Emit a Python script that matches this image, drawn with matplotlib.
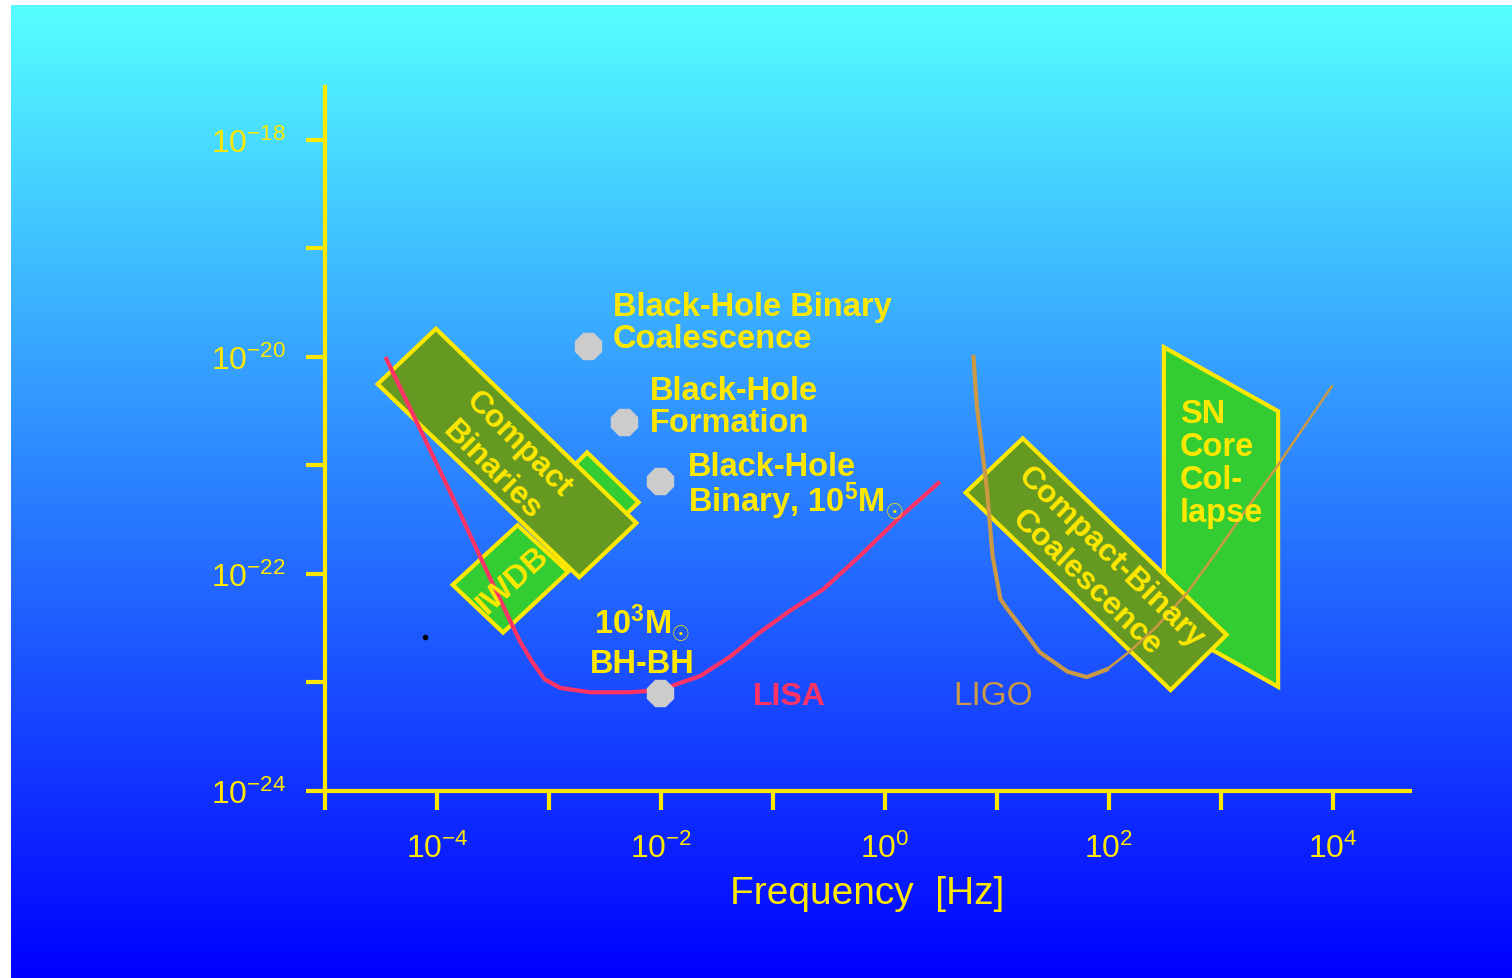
import numpy as np
import matplotlib
matplotlib.use('Agg')
import matplotlib.pyplot as plt
from matplotlib.patches import Polygon
from matplotlib.colors import LinearSegmentedColormap
from matplotlib.ticker import FixedLocator, NullLocator

plt.rcParams['font.family'] = 'Liberation Sans'
plt.rcParams['mathtext.fontset'] = 'custom'
plt.rcParams['mathtext.rm'] = 'Liberation Sans'
plt.rcParams['mathtext.it'] = 'Liberation Sans:italic'
plt.rcParams['mathtext.bf'] = 'Liberation Sans:bold'

# all values as log10(frequency [Hz]) and log10(strain)
lisa_logf = [-4.46, -3.88, -3.44, -3.26, -3.15, -3.04, -2.90, -2.63, -2.28, -2.01,
             -1.65, -1.38, -1.12, -0.85, -0.55, -0.22, 0.13, 0.49]
lisa_logh = [-20.00, -21.25, -22.23, -22.62, -22.81, -22.97, -23.05, -23.09, -23.09, -23.07,
             -22.94, -22.76, -22.54, -22.34, -22.14, -21.83, -21.48, -21.15]

ligo_logf = [0.79, 0.82, 0.91, 0.96, 1.03, 1.09, 1.21, 1.38, 1.63, 1.80, 1.98,
             2.19, 2.43, 2.70, 2.96, 3.23, 3.50, 3.77, 3.99]
ligo_logh = [-20.00, -20.45, -21.22, -21.83, -22.23, -22.32, -22.48, -22.72, -22.90, -22.95, -22.88,
             -22.71, -22.48, -22.17, -21.80, -21.40, -21.01, -20.60, -20.27]

# source regions (corners)
cb_logf = [-4.53, -4.01, -2.22, -2.73]          # compact binaries
cb_logh = [-20.25, -19.74, -21.53, -22.03]
iwdb_logf = [-3.86, -3.28, -2.83, -3.41]        # IWDB
iwdb_logh = [-22.10, -21.55, -21.98, -22.54]
strip_logf = [-2.99, -2.66, -2.20, -2.55]       # green strip behind compact binaries
strip_logh = [-21.22, -20.88, -21.34, -21.68]
cbc_logf = [0.72, 1.23, 3.05, 2.55]             # compact-binary coalescence
cbc_logh = [-21.25, -20.75, -22.56, -23.07]
sn_logf = [2.49, 3.51, 3.51, 2.49]              # SN core collapse
sn_logh = [-19.91, -20.50, -23.04, -22.45]

# black-hole sources
bh_logf = [-2.65, -2.33, -2.01, -2.01]
bh_logh = [-19.90, -20.60, -21.14, -23.10]

xtick_exp = list(range(-5, 5))
ytick_exp = list(range(-24, -17))

# labels: lines, x (log f), baselines (log h)
bhb_lines = ['Black-Hole Binary', 'Coalescence']
bhb_x, bhb_y = -2.43, [-19.61, -19.91]
bhf_lines = ['Black-Hole', 'Formation']
bhf_x, bhf_y = -2.10, [-20.39, -20.68]
bh5_lines = ['Black-Hole', 'Binary, 10$^{\\mathbf{5}}$M$_{\\odot}$']
bh5_x, bh5_y = -1.76, [-21.09, -21.42]
bh3_lines = ['10$^{\\mathbf{3}}$M$_{\\odot}$', 'BH-BH']
bh3_x, bh3_y = -2.17, [-22.54, -22.90]
sn_lines = ['SN', 'Core', 'Col-', 'lapse']
sn_x, sn_y = 2.63, [-20.60, -20.90, -21.21, -21.51]

YELLOW = '#FFE800'
OLIVE = '#669922'
GREEN = '#33CC33'
RED = '#FF3366'
TAN = '#CC9944'


def poly(ax, lf, lh, face, z):
    pts = np.column_stack([10.0 ** np.array(lf), 10.0 ** np.array(lh)])
    ax.add_patch(Polygon(pts, closed=True, facecolor=face, edgecolor=YELLOW,
                         linewidth=3, joinstyle='miter', zorder=z))


def lines(ax, txt, x, ys, ha='left'):
    for t, y in zip(txt, ys):
        ax.text(10 ** x, 10 ** y, t, ha=ha, va='baseline', color=YELLOW,
                fontsize=23.5, fontweight='bold', zorder=7)


fig = plt.figure(figsize=(15.12, 9.79), dpi=100)

bg = fig.add_axes([11 / 1512, 0, 1 - 11 / 1512, 973 / 979])
grad = np.linspace(0, 1, 256).reshape(-1, 1)
cmap = LinearSegmentedColormap.from_list('bg', ['#0000FF', '#55FFFF'])
bg.imshow(grad, aspect='auto', cmap=cmap, origin='lower', extent=[0, 1, 0, 1])
bg.axis('off')

ax = fig.add_axes([325 / 1512, 1 - 792 / 979, (1410 - 325) / 1512, (792 - 88) / 979])
ax.set_facecolor('none')
ax.set_xscale('log')
ax.set_yscale('log')
ax.set_xlim(1e-5, 10 ** 4.6875)
ax.set_ylim(1e-24, 10 ** -17.512)

for s in ['top', 'right']:
    ax.spines[s].set_visible(False)
for s in ['left', 'bottom']:
    ax.spines[s].set_color(YELLOW)
    ax.spines[s].set_linewidth(3)

ax.xaxis.set_major_locator(FixedLocator([10.0 ** e for e in xtick_exp]))
ax.yaxis.set_major_locator(FixedLocator([10.0 ** e for e in ytick_exp]))
ax.xaxis.set_minor_locator(NullLocator())
ax.yaxis.set_minor_locator(NullLocator())
ax.set_xticklabels(['$10^{%d}$' % e if e % 2 == 0 else '' for e in xtick_exp])
ax.set_yticklabels(['$10^{%d}$' % e if e % 2 == 0 else '' for e in ytick_exp])
ax.tick_params(axis='both', colors=YELLOW, width=3, length=14, labelsize=23)
ax.tick_params(axis='x', pad=16)
ax.tick_params(axis='y', pad=14)
ax.set_xlabel('Frequency  [Hz]', color=YELLOW, fontsize=28, labelpad=8)

# regions
poly(ax, sn_logf, sn_logh, GREEN, 2)
poly(ax, cbc_logf, cbc_logh, OLIVE, 3)
poly(ax, strip_logf, strip_logh, GREEN, 2)
poly(ax, iwdb_logf, iwdb_logh, GREEN, 2)
poly(ax, cb_logf, cb_logh, OLIVE, 3)

# detector curves
lf = 10.0 ** np.array(lisa_logf)
lh = 10.0 ** np.array(lisa_logh)
ax.plot(lf, lh, color=RED, lw=3, zorder=5, solid_capstyle='butt')
gf = 10.0 ** np.array(ligo_logf)
gh = 10.0 ** np.array(ligo_logh)
ax.plot(gf[:11], gh[:11], color=TAN, lw=3, zorder=5)
ax.plot(gf[10:], gh[10:], color=TAN, lw=1.8, zorder=5)

ax.plot(10.0 ** np.array(bh_logf), 10.0 ** np.array(bh_logh), linestyle='none',
        marker='8', markersize=20, color='#CCCCCC', zorder=6)
ax.plot([10 ** -4.107], [10 ** -22.58], marker='o', markersize=3, color='black',
        linestyle='none', zorder=6)

lines(ax, bhb_lines, bhb_x, bhb_y)
lines(ax, bhf_lines, bhf_x, bhf_y)
lines(ax, bh5_lines, bh5_x, bh5_y)
lines(ax, bh3_lines, bh3_x, bh3_y, ha='center')
lines(ax, sn_lines, sn_x, sn_y)

tkw = dict(color=YELLOW, fontsize=23, fontweight='bold', zorder=7)
ax.text(10 ** -3.39, 10 ** -20.92, 'Compact\nBinaries', ha='center', va='center',
        rotation=-45, rotation_mode='anchor', linespacing=1.3, **tkw)
ax.text(10 ** -3.32, 10 ** -22.05, 'IWDB', ha='center', va='center',
        rotation=42, rotation_mode='anchor', **tkw)
ax.text(10 ** 1.91, 10 ** -21.96, 'Compact-Binary\nCoalescence', ha='center', va='center',
        rotation=-44, rotation_mode='anchor', linespacing=1.25, **tkw)

ax.text(10 ** -0.857, 10 ** -23.20, 'LISA', color=RED, fontsize=23, fontweight='bold',
        ha='center', va='baseline')
ax.text(10 ** 0.964, 10 ** -23.20, 'LIGO', color=TAN, fontsize=24,
        ha='center', va='baseline')

fig.savefig('out.png', dpi=100)
